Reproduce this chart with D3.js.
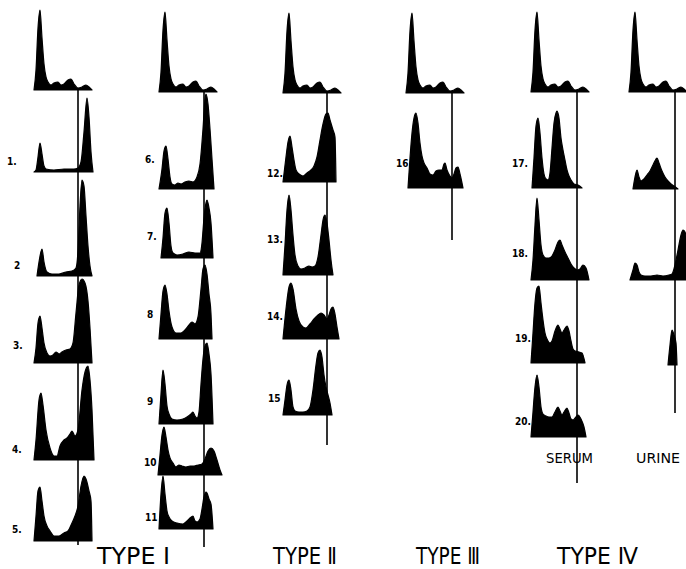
<!DOCTYPE html>
<html>
<head>
<meta charset="utf-8">
<script src="https://cdn.jsdelivr.net/npm/d3@7"></script>
<style>
  body { margin: 0; background: #fff; }
  svg { display: block; }
</style>
</head>
<body>
<div id="chart"></div>
<script>
// electrophoresis tracings, [mobility, height]
var normal = [[0,0],[2,20],[4,62],[6,80],[8,52],[10,26],[12,13],[14,8],[17,5],[20,7],[24,8],[27,5],[30,6],[34,10],[37,11],[40,6],[44,2],[48,3],[52,5],[55,3],[58,0]];
var p1  = [[0,0],[2,2],[4,15],[6,29],[8,18],[10,6],[12,3],[20,2],[30,3],[40,3],[44,4],[47,10],[50,40],[53,74],[55,55],[57,20],[59,0]];
var p2  = [[3,0],[5,14],[8,27],[10,14],[13,4],[18,2],[25,2],[32,4],[38,5],[42,8],[44,25],[46,70],[48,96],[50,90],[52,60],[54,30],[56,10],[58,0]];
var p3  = [[0,0],[2,15],[4,40],[6,47],[8,35],[10,20],[13,10],[16,7],[19,8],[22,11],[25,9],[28,11],[32,13],[36,14],[39,20],[42,50],[45,78],[48,84],[51,80],[54,62],[56,35],[58,0]];
var p4  = [[0,0],[2,20],[5,60],[7,67],[9,55],[12,30],[16,12],[20,4],[23,4],[26,14],[30,20],[33,22],[36,26],[38,29],[41,24],[44,30],[48,70],[51,88],[54,94],[56,80],[58,50],[60,0]];
var p5  = [[0,0],[2,25],[4,50],[6,54],[8,40],[10,25],[13,15],[16,10],[20,5],[25,5],[30,8],[34,10],[38,18],[41,25],[44,35],[47,55],[50,65],[52,62],[55,50],[57,40],[58,0]];
var p6  = [[0,0],[3,20],[5,38],[7,43],[9,30],[11,12],[13,5],[16,4],[19,6],[22,5],[26,7],[30,8],[34,7],[38,12],[41,25],[44,60],[46,90],[47,95],[49,85],[51,60],[53,30],[55,0]];
var p7  = [[2,0],[4,20],[6,45],[8,50],[10,35],[12,12],[14,5],[18,3],[24,4],[30,6],[36,5],[41,5],[43,15],[45,40],[47,55],[48,58],[50,50],[52,35],[54,0]];
var p8  = [[0,0],[2,25],[4,48],[6,54],[8,45],[10,28],[13,12],[17,6],[22,6],[26,9],[30,14],[33,17],[36,15],[39,22],[42,50],[44,70],[46,74],[48,65],[50,45],[52,25],[53,0]];
var p9  = [[0,0],[2,30],[4,54],[6,40],[8,18],[10,10],[13,5],[18,4],[24,5],[28,7],[32,10],[34,12],[36,8],[38,6],[40,12],[42,40],[44,65],[46,78],[48,81],[50,70],[52,50],[54,0]];
var p10 = [[-1,0],[1,20],[3,40],[5,48],[7,38],[9,25],[11,17],[14,12],[17,8],[20,10],[23,9],[27,8],[31,9],[35,9],[39,10],[43,11],[46,16],[49,24],[52,27],[55,24],[58,15],[61,5],[63,0]];
var p11 = [[0,0],[2,35],[4,53],[6,35],[8,18],[10,12],[13,8],[18,6],[24,5],[28,8],[31,11],[34,13],[36,8],[38,7],[41,10],[43,20],[45,32],[47,37],[48,36],[50,30],[52,25],[54,0]];
var p12 = [[0,0],[3,25],[5,40],[7,46],[9,35],[11,22],[13,12],[16,8],[20,6],[24,9],[28,12],[31,16],[34,25],[37,42],[40,58],[43,68],[45,69],[47,62],[50,52],[52,45],[53,0]];
var p13 = [[0,0],[2,30],[4,65],[6,80],[8,65],[10,40],[12,20],[15,9],[18,6],[22,7],[26,9],[29,8],[32,9],[35,18],[38,40],[40,55],[42,60],[44,52],[46,35],[48,15],[50,0]];
var p14 = [[0,0],[3,30],[6,52],[8,56],[10,50],[13,30],[16,18],[20,12],[23,11],[27,15],[31,20],[35,24],[38,26],[41,24],[44,20],[46,24],[48,30],[50,32],[52,25],[54,12],[56,0]];
var p15 = [[0,0],[2,15],[4,30],[6,35],[8,25],[10,8],[12,4],[16,3],[20,3],[24,4],[27,8],[30,25],[33,50],[35,62],[37,65],[39,58],[41,40],[43,28],[45,20],[47,12],[49,0]];
var p16 = [[2,0],[4,30],[6,55],[8,70],[10,75],[12,65],[14,45],[16,32],[18,25],[21,20],[24,14],[27,13],[30,17],[33,18],[36,18],[38,24],[39,25],[41,18],[44,12],[46,10],[48,14],[50,20],[52,21],[54,14],[57,0]];
var p17 = [[1,0],[3,30],[5,62],[7,70],[9,55],[11,30],[13,14],[15,9],[17,8],[19,15],[21,40],[23,65],[25,75],[26,77],[28,70],[30,50],[32,38],[34,28],[36,18],[38,12],[40,8],[43,4],[47,3],[51,0]];
var p18 = [[0,0],[2,20],[4,55],[6,82],[8,60],[10,35],[12,25],[15,22],[18,22],[21,24],[24,30],[27,38],[29,40],[31,35],[34,28],[37,22],[40,16],[43,12],[46,10],[49,11],[52,15],[55,12],[58,0]];
var p19 = [[0,0],[2,30],[4,60],[6,75],[8,77],[10,60],[12,43],[14,30],[16,24],[19,20],[21,22],[24,32],[27,38],[29,34],[31,30],[33,33],[36,37],[38,32],[40,22],[42,14],[44,12],[48,11],[51,10],[54,0]];
var p20 = [[0,0],[2,25],[4,50],[6,62],[8,50],[10,30],[12,23],[15,21],[18,20],[21,20],[24,25],[27,30],[29,26],[31,22],[33,25],[36,29],[38,24],[40,18],[42,17],[45,20],[47,22],[50,18],[53,10],[55,0]];
var u17 = [[4,0],[6,12],[8,19],[10,12],[12,8],[15,10],[18,14],[21,18],[24,24],[27,30],[28,31],[30,26],[33,18],[36,12],[39,8],[42,5],[45,3],[49,0]];
var u18 = [[1,0],[4,10],[6,17],[8,15],[10,8],[12,5],[16,4],[22,4],[28,5],[34,4],[40,5],[43,6],[46,15],[49,30],[52,45],[54,50],[56,48],[60,20],[62,0]];
var u19 = [[39,0],[41,20],[43,35],[45,30],[47,22],[48,0]];

var typeLabels = ["TYPE I", "TYPE \u2161", "TYPE \u2162", "TYPE \u2163"];
var fluidLabels = ["SERUM", "URINE"];

// layout
var columns = [
  { left: 34,  line: 78,  top: 90, bottom: 545 },
  { left: 159, line: 204, top: 92, bottom: 547 },
  { left: 283, line: 327, top: 93, bottom: 445 },
  { left: 406, line: 452, top: 93, bottom: 240 },
  { left: 531, line: 577, top: 92, bottom: 483 },
  { left: 629, line: 675, top: 92, bottom: 413 }
];

var traces = [
  { d: normal, col: 0, base: 90 },
  { d: p1, col: 0, base: 172, label: "1.", lx: 7,  ly: 165 },
  { d: p2, col: 0, base: 276, label: "2",  lx: 14, ly: 269 },
  { d: p3, col: 0, base: 363, label: "3.", lx: 13, ly: 349 },
  { d: p4, col: 0, base: 460, label: "4.", lx: 12, ly: 453 },
  { d: p5, col: 0, base: 541, label: "5.", lx: 12, ly: 533 },
  { d: normal, col: 1, base: 92 },
  { d: p6, col: 1, base: 189, label: "6.", lx: 145, ly: 163 },
  { d: p7, col: 1, base: 258, label: "7.", lx: 147, ly: 240 },
  { d: p8, col: 1, base: 339, label: "8",  lx: 147, ly: 318 },
  { d: p9, col: 1, base: 424, label: "9",  lx: 147, ly: 405 },
  { d: p10, col: 1, base: 475, label: "10", lx: 144, ly: 466 },
  { d: p11, col: 1, base: 529, label: "11", lx: 145, ly: 521 },
  { d: normal, col: 2, base: 93 },
  { d: p12, col: 2, base: 182, label: "12.", lx: 267, ly: 177 },
  { d: p13, col: 2, base: 275, label: "13.", lx: 267, ly: 243 },
  { d: p14, col: 2, base: 339, label: "14.", lx: 267, ly: 320 },
  { d: p15, col: 2, base: 415, label: "15",  lx: 268, ly: 402 },
  { d: normal, col: 3, base: 93 },
  { d: p16, col: 3, base: 188, label: "16.", lx: 396, ly: 167 },
  { d: normal, col: 4, base: 92 },
  { d: p17, col: 4, base: 188, label: "17.", lx: 512, ly: 167 },
  { d: p18, col: 4, base: 280, label: "18.", lx: 512, ly: 257 },
  { d: p19, col: 4, base: 363, label: "19.", lx: 515, ly: 342 },
  { d: p20, col: 4, base: 437, label: "20.", lx: 515, ly: 425 },
  { d: normal, col: 5, base: 92 },
  { d: u17, col: 5, base: 189 },
  { d: u18, col: 5, base: 280 },
  { d: u19, col: 5, base: 365 }
];

var W = 686, H = 569;
var svg = d3.select("#chart").append("svg")
  .attr("width", W)
  .attr("height", H);

// reference lines
svg.selectAll(".ref")
  .data(columns)
  .enter()
  .append("line")
  .attr("x1", function (c) { return c.line; })
  .attr("x2", function (c) { return c.line; })
  .attr("y1", function (c) { return c.top; })
  .attr("y2", function (c) { return c.bottom; })
  .style("stroke", "#000")
  .style("stroke-width", 1.6);

traces.forEach(function (t) {
  var c = columns[t.col];
  var x = d3.scaleLinear().domain([0, 60]).range([c.left, c.left + 60]);
  var y = d3.scaleLinear().domain([0, 100]).range([t.base, t.base - 100]);
  var area = d3.area()
    .x(function (d) { return x(d[0]); })
    .y0(y(0))
    .y1(function (d) { return y(d[1]); })
    .curve(d3.curveMonotoneX);
  svg.append("path")
    .datum(t.d)
    .attr("d", area)
    .style("fill", "#000")
    .style("stroke", "#000")
    .style("stroke-width", 1.2)
    .style("stroke-linejoin", "round");
  if (t.label) {
    svg.append("text")
      .attr("x", t.lx)
      .attr("y", t.ly)
      .text(t.label)
      .style("font-family", "'DejaVu Sans Condensed', 'DejaVu Sans', sans-serif")
      .style("font-weight", "bold")
      .style("font-size", "10px");
  }
});

// serum / urine
var fluidX = [546, 636];
svg.selectAll(".fluid")
  .data(fluidLabels)
  .enter()
  .append("text")
  .attr("x", function (d, i) { return fluidX[i]; })
  .attr("y", 463)
  .attr("textLength", function (d, i) { return i === 0 ? 47 : 44; })
  .attr("lengthAdjust", "spacingAndGlyphs")
  .text(function (d) { return d; })
  .style("font-family", "'DejaVu Sans', sans-serif")
  .style("font-size", "14px");

// type headings
var typeX = [97, 273, 416, 557];
var typeW = [73, 64, 64, 81];
svg.selectAll(".type")
  .data(typeLabels)
  .enter()
  .append("text")
  .attr("x", function (d, i) { return typeX[i]; })
  .attr("y", 564)
  .attr("textLength", function (d, i) { return typeW[i]; })
  .attr("lengthAdjust", "spacingAndGlyphs")
  .text(function (d) { return d; })
  .style("font-family", "'DejaVu Sans Condensed', 'DejaVu Sans', sans-serif")
  .style("font-weight", "300")
  .style("font-size", "23px");
</script>
</body>
</html>
